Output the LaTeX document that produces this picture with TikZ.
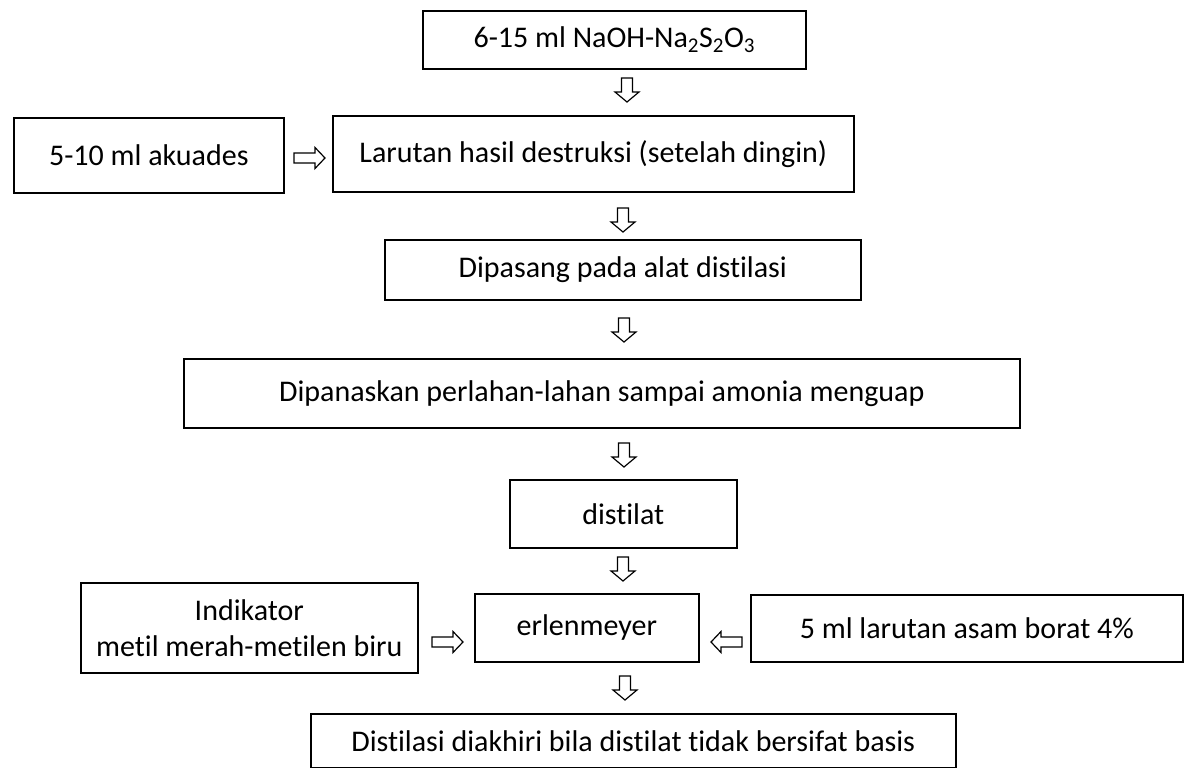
\documentclass[tikz,border=0pt]{standalone}
\usepackage{fontspec}
\setmainfont{Carlito}[Ligatures=NoCommon]
\begin{document}
\begin{tikzpicture}[x=1pt,y=1pt,
  box/.style={draw, line width=1.6pt, rectangle, inner sep=0pt, anchor=north west,
    font=\fontsize{30}{36}\selectfont, align=center},
  hollow/.style={draw, line width=1.2pt, fill=white, line join=miter},
  pics/darr/.style={code={\draw[hollow] (-5.5,0) -- (5.5,0) -- (5.5,-14) -- (12,-14) -- (0,-24) -- (-12,-14) -- (-5.5,-14) -- cycle;}},
  pics/rarr/.style={code={\draw[hollow] (0,5) -- (21,5) -- (21,10.5) -- (31,0) -- (21,-10.5) -- (21,-5) -- (0,-5) -- cycle;}},
  pics/larr/.style={code={\draw[hollow] (0,5) -- (-21,5) -- (-21,10.5) -- (-31,0) -- (-21,-10.5) -- (-21,-5) -- (0,-5) -- cycle;}}
]
\useasboundingbox (0,0) rectangle (1195,-768);

\node[box, minimum width=383pt, minimum height=58pt] (b1) at (422,-10) {6-15 ml NaOH-Na\textsubscript{2}S\textsubscript{2}O\textsubscript{3}};
\node[box, minimum width=270pt, minimum height=75pt] (aku) at (13,-117) {5-10 ml akuades};
\node[box, minimum width=521pt, minimum height=76pt] (b2) at (332,-115) {Larutan hasil destruksi (setelah dingin)};
\node[box, minimum width=476pt, minimum height=60pt] (b3) at (384,-239) {Dipasang pada alat distilasi};
\node[box, minimum width=836pt, minimum height=69pt] (b4) at (183,-358) {Dipanaskan perlahan-lahan sampai amonia menguap};
\node[box, minimum width=227pt, minimum height=68pt] (b5) at (509,-479) {distilat};
\node[box, minimum width=337pt, minimum height=90pt] (ind) at (80,-582) {Indikator\\metil merah-metilen biru};
\node[box, minimum width=224pt, minimum height=68pt] (erl) at (474,-593) {erlenmeyer};
\node[box, minimum width=432pt, minimum height=67pt] (asb) at (750,-594) {5 ml larutan asam borat 4\%};
\node[box, minimum width=645pt, minimum height=54pt] (b6) at (310,-713) {Distilasi diakhiri bila distilat tidak bersifat basis};

\pic at (627,-78) {darr};
\pic at (623,-208) {darr};
\pic at (624,-318) {darr};
\pic at (624,-443) {darr};
\pic at (623,-557) {darr};
\pic at (625,-676) {darr};
\pic at (294,-158) {rarr};
\pic at (432,-642) {rarr};
\pic at (742,-642) {larr};
\end{tikzpicture}
\end{document}
